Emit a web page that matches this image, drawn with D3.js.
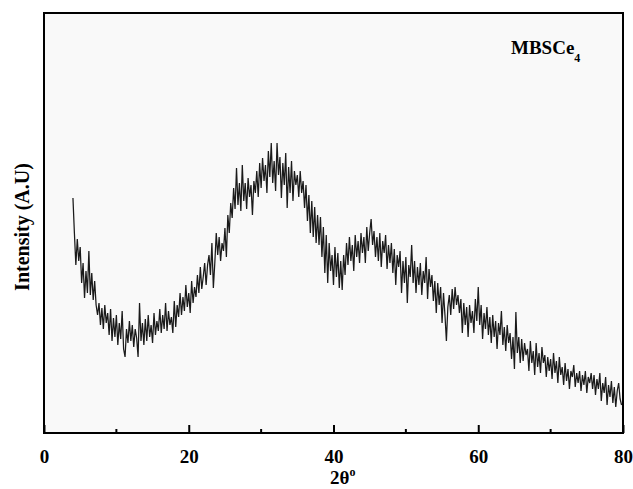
<!DOCTYPE html>
<html>
<head>
<meta charset="utf-8">
<script src="https://cdn.jsdelivr.net/npm/d3@7"></script>
<style>
  body { margin: 0; background: #fff; }
  text { font-family: "Liberation Serif", "Times New Roman", serif; font-weight: bold; fill: #000; }
</style>
</head>
<body>
<div id="chart"></div>
<script>
'use strict';

// XRD scan: 2theta start / step of the instrument grid
var scanStart = 4.0;
var scanStep = 0.2;

// intensity (a.u.), one row = 2 degrees
var intensity = [
  235, 200, 168, 194, 172, 186, 150, 170, 135, 162,
  140, 182, 138, 160, 133, 152, 128, 118, 130, 108,
  125, 104, 128, 110, 120, 98, 124, 92, 115, 96,
  118, 88, 110, 94, 122, 84, 76, 104, 90, 112,
  92, 108, 86, 104, 95, 76, 130, 92, 110, 88,
  114, 92, 118, 96, 108, 90, 120, 98, 112, 102,
  124, 100, 118, 104, 130, 102, 122, 108, 116, 100,
  132, 106, 128, 116, 140, 118, 136, 122, 148, 126,
  140, 120, 152, 130, 146, 136, 158, 140, 166, 144,
  156, 170, 148, 168, 178, 158, 190, 145, 170, 200,
  178, 196, 172, 190, 182, 205, 176, 218, 200, 230,
  215, 245, 224, 265, 228, 250, 222, 268, 232, 250,
  224, 255, 236, 248, 218, 252, 240, 262, 236, 270,
  245, 275, 252, 268, 240, 282, 256, 290, 250, 272,
  242, 290, 258, 276, 235, 270, 248, 280, 225, 266,
  240, 272, 232, 262, 248, 258, 236, 262, 240, 252,
  225, 248, 212, 238, 200, 232, 196, 226, 190, 218,
  188, 216, 176, 206, 160, 198, 150, 190, 162, 178,
  148, 186, 156, 180, 145, 172, 143, 178, 158, 190,
  168, 196, 172, 188, 162, 198, 176, 192, 170, 200,
  180, 196, 170, 206, 182, 200, 214, 188, 202, 176,
  196, 172, 200, 166, 192, 180, 198, 164, 188, 170,
  190, 160, 184, 148, 178, 166, 182, 140, 172, 150,
  176, 130, 168, 156, 188, 150, 172, 140, 166, 148,
  170, 138, 162, 150, 176, 134, 164, 146, 158, 132,
  152, 120, 150, 128, 146, 110, 140, 118, 92, 126,
  138, 118, 144, 124, 146, 128, 138, 120, 134, 100,
  130, 108, 126, 96, 128, 110, 122, 100, 134, 112,
  146, 108, 128, 94, 120, 104, 126, 98, 116, 90,
  118, 96, 112, 84, 110, 98, 122, 88, 106, 82,
  108, 90, 100, 74, 96, 64, 121, 80, 96, 70,
  94, 72, 90, 78, 84, 62, 92, 70, 82, 58,
  90, 66, 80, 60, 86, 70, 78, 56, 76, 62,
  74, 54, 80, 60, 72, 50, 76, 58, 66, 48,
  70, 52, 64, 44, 62, 56, 68, 46, 60, 50,
  62, 42, 58, 48, 62, 40, 56, 50, 60, 44,
  58, 38, 54, 44, 60, 32, 50, 40, 56, 28,
  48, 36, 52, 30, 46, 26, 42, 50, 34, 28
];

var majorTicks = [0, 20, 40, 60, 80];
var minorTicks = [10, 30, 50, 70];
var sampleName = 'MBSCe';
var sampleSub = '4';
var xAxisName = '2θ';
var yAxisName = 'Intensity (A.U)';

var width = 633;
var height = 489;
var margin = { top: 13, right: 10, bottom: 56, left: 44 };
var plotW = width - margin.left - margin.right;
var plotH = height - margin.top - margin.bottom;

var x = d3.scaleLinear().domain([0, 80]).range([0, plotW]);
var y = d3.scaleLinear().domain([0, 420]).range([plotH, 0]);

var data = intensity.map(function(v, i) {
    return { t: scanStart + i * scanStep, v: v };
});

var svg = d3.select('#chart').append('svg')
    .attr('width', width)
    .attr('height', height)
    .append('g')
    .attr('transform', 'translate(' + margin.left + ',' + margin.top + ')');

svg.append('rect')
    .attr('width', plotW)
    .attr('height', plotH)
    .attr('fill', '#f9f9f9');

var line = d3.line()
    .x(function(d) { return x(d.t); })
    .y(function(d) { return y(d.v); });

svg.append('path')
    .datum(data)
    .attr('fill', 'none')
    .attr('stroke', '#1a1a1a')
    .attr('stroke-width', 1.25)
    .attr('d', line);

// inward ticks on bottom axis
var xAxis = d3.axisBottom(x)
    .tickValues(majorTicks)
    .tickSizeInner(-8)
    .tickSizeOuter(0)
    .tickPadding(17)
    .tickFormat(d3.format('d'));

var gx = svg.append('g')
    .attr('transform', 'translate(0,' + plotH + ')')
    .call(xAxis);
gx.select('.domain').remove();
gx.selectAll('line').attr('stroke', '#000').attr('stroke-width', 2);
gx.selectAll('text')
    .style('font-size', '19px')
    .style('font-family', '"Liberation Serif", serif')
    .style('font-weight', 'bold');

gx.selectAll('.minor')
    .data(minorTicks)
    .enter()
    .append('line')
    .attr('x1', function(d) { return x(d); })
    .attr('x2', function(d) { return x(d); })
    .attr('y1', 0)
    .attr('y2', -4)
    .attr('stroke', '#000')
    .attr('stroke-width', 2);

// frame
svg.append('rect')
    .attr('width', plotW)
    .attr('height', plotH)
    .attr('fill', 'none')
    .attr('stroke', '#000')
    .attr('stroke-width', 2);

var lbl = svg.append('text')
    .attr('x', 467)
    .attr('y', 41)
    .style('font-size', '19px');
lbl.append('tspan').text(sampleName);
lbl.append('tspan')
    .attr('dy', 8)
    .style('font-size', '12px')
    .text(sampleSub);

var xl = svg.append('text')
    .attr('x', 286)
    .attr('y', plotH + 51)
    .style('font-size', '19px');
xl.append('tspan').text(xAxisName);
xl.append('tspan')
    .attr('dy', -8)
    .style('font-size', '12px')
    .text('o');

svg.append('text')
    .attr('text-anchor', 'middle')
    .attr('transform', 'translate(' + (-15) + ',' + (227 - margin.top) + ') rotate(-90)')
    .style('font-size', '20px')
    .text(yAxisName);
</script>
</body>
</html>
